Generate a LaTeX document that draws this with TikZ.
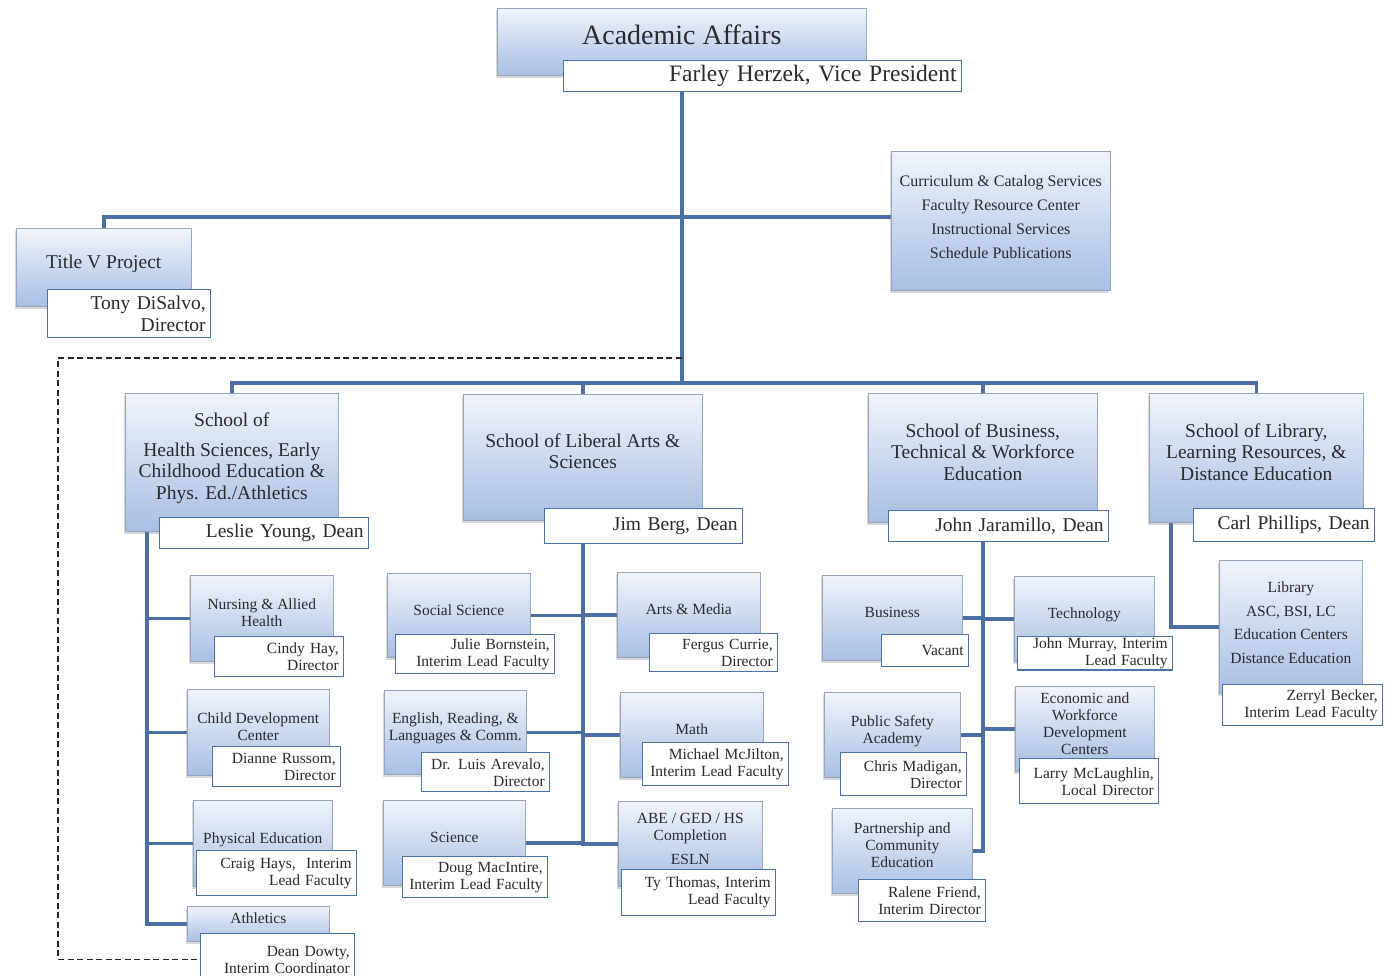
\documentclass[tikz,border=0pt]{standalone}
\usepackage{fontspec}
\setmainfont{Liberation Serif}
\usetikzlibrary{shadows,calc}

\definecolor{linkblue}{HTML}{4A70A6}
\definecolor{edgeblue}{HTML}{4A72AA}
\definecolor{unittop}{HTML}{F0F4FB}
\definecolor{unitbot}{HTML}{A7BEE3}
\definecolor{unitedge}{HTML}{97A6BD}
\definecolor{inkgray}{HTML}{2A2A30}

\pgfdeclarelayer{background}
\pgfsetlayers{background,main}

% type sizes
\newcommand\fsub{\fontsize{15.5}{17}\selectfont}
\newcommand\fschool{\fontsize{19.5}{21.5}\selectfont}
\newcommand\fdean{\fontsize{19.5}{22}\selectfont}
\newcommand\ftop{\fontsize{28}{30}\selectfont}
\newcommand\fvp{\fontsize{23.5}{26}\selectfont}
\newcommand\flist{\fontsize{16}{24}\selectfont}

% shaded unit box: [options]{name}{x1}{y1}{x2}{y2}{text}
% (text sits a little above the box centre)
\newcommand\orgunit[7][]{%
  \pgfmathsetmacro\ubw{#5-#3}\pgfmathsetmacro\ubh{#6-#4}%
  \node[unitbox,minimum width=\ubw pt,minimum height=\ubh pt,#1] (#2) at (#3,#4)
    {\raisebox{3.5pt}[\height][\depth]{\begin{tabular}{@{}c@{}}#7\end{tabular}}};}
% white name plate: [options]{name}{x1}{y1}{x2}{y2}{text}
\newcommand\orgname[7][]{%
  \pgfmathsetmacro\ubw{#5-#3}\pgfmathsetmacro\ubh{#6-#4}\pgfmathsetmacro\utw{#5-#3-10}%
  \node[namebox,minimum width=\ubw pt,minimum height=\ubh pt,text width=\utw pt,#1] (#2) at (#3,#4) {#7};}

\tikzset{
  unitbox/.style={anchor=north west, draw=unitedge, line width=0.6pt,
    top color=unittop, bottom color=unitbot, align=center, inner sep=2pt,
    font=\fsub, text=inkgray,
    drop shadow={shadow xshift=-1pt,shadow yshift=-3pt,opacity=.3}},
  namebox/.style={anchor=north west, draw=edgeblue, line width=1.4pt,
    fill=white, align=right, inner xsep=5pt, inner ysep=1pt,
    font=\fsub, text=inkgray},
  link/.style={draw=linkblue, line width=3.5pt, line join=miter},
  dashline/.style={draw=black!85, line width=1.1pt, dash pattern=on 6pt off 3.5pt}
}

\begin{document}
\begin{tikzpicture}[x=1pt,y=-1pt]
\useasboundingbox (0,0) rectangle (1395,975);

% top level
\orgunit[font=\ftop]{aa}{497}{8}{866}{75}{Academic Affairs}
\orgname[font=\fvp]{vp}{563}{60}{961}{91}{Farley Herzek, Vice President}

\orgunit[font=\fschool]{t5}{16}{228}{191}{306}{Title V Project}
\orgname[font=\fdean]{t5n}{47}{289}{210}{337}{Tony DiSalvo,\\Director}

\orgunit[font=\flist]{cur}{891}{151}{1110}{290}{Curriculum \& Catalog Services\\Faculty Resource Center\\Instructional Services\\Schedule Publications}

% schools
\orgunit[font=\fschool]{hs}{125}{393}{338}{531}{School of\\[8pt]Health Sciences, Early\\Childhood Education \&\\Phys. Ed./Athletics}
\orgname[font=\fdean]{hsn}{159}{517}{368}{548}{Leslie Young, Dean}

\orgunit[font=\fschool]{la}{463}{394}{702}{520}{School of Liberal Arts \&\\Sciences}
\orgname[font=\fdean]{lan}{544}{508}{742}{543}{Jim Berg, Dean}

\orgunit[font=\fschool]{bs}{868}{393}{1097}{522}{School of Business,\\Technical \& Workforce\\Education}
\orgname[font=\fdean]{bsn}{888}{510}{1108}{541}{John Jaramillo, Dean}

\orgunit[font=\fschool]{lib}{1149}{393}{1363}{522}{School of Library,\\Learning Resources, \&\\Distance Education}
\orgname[font=\fdean]{libn}{1193}{508}{1374}{541}{Carl Phillips, Dean}

% health sciences units
\orgunit{nur}{190}{575}{333}{661}{Nursing \& Allied\\Health}
\orgname{nurn}{214}{636}{343}{676}{Cindy Hay,\\Director}
\orgunit{cd}{187}{689}{329}{775}{Child Development\\Center}
\orgname{cdn}{212}{746}{340}{786}{Dianne Russom,\\Director}
\orgunit{pe}{193}{800}{332}{886}{Physical Education}
\orgname{pen}{196}{850}{356}{895}{Craig Hays,~ Interim\\Lead Faculty}
\orgunit{ath}{187}{906}{329}{941}{Athletics}
\orgname{athn}{200}{933}{354}{985}{Dean Dowty,\\Interim Coordinator}

% liberal arts units
\orgunit{ss}{387}{573}{530}{657}{Social Science}
\orgname{ssn}{395}{634}{554}{673}{Julie Bornstein,\\Interim Lead Faculty}
\orgunit{eng}{384}{690}{526}{774}{English, Reading, \&\\Languages \& Comm.}
\orgname{engn}{421}{752}{549}{791}{Dr. Luis Arevalo,\\Director}
\orgunit{sci}{383}{800}{525}{885}{Science}
\orgname{scin}{402}{856}{547}{897}{Doug MacIntire,\\Interim Lead Faculty}
\orgunit{am}{617}{572}{760}{657}{Arts \& Media}
\orgname{amn}{649}{633}{777}{671}{Fergus Currie,\\Director}
\orgunit{math}{620}{692}{763}{777}{Math}
\orgname{mathn}{642}{742}{788}{785}{Michael McJilton,\\Interim Lead Faculty}
\orgunit{abe}{618}{801}{762}{886}{ABE / GED / HS\\Completion\\[7pt]ESLN}
\orgname{aben}{621}{869}{775}{915}{Ty Thomas, Interim\\Lead Faculty}

% business units
\orgunit{bus}{822}{575}{962}{660}{Business}
\orgname{busn}{881}{634}{968}{666}{Vacant}
\orgunit{ps}{824}{692}{960}{777}{Public Safety\\Academy}
\orgname{psn}{840}{752}{966}{795}{Chris Madigan,\\Director}
\orgunit{part}{832}{808}{972}{893}{Partnership and\\Community\\Education}
\orgname{partn}{858}{879}{985}{921}{Ralene Friend,\\Interim Director}
\orgunit{tech}{1014}{576}{1154}{661}{Technology}
\orgname{techn}{1017}{636}{1172}{668}{John Murray, Interim\\Lead Faculty}
\orgunit{econ}{1015}{686}{1154}{771}{Economic and\\Workforce\\Development\\Centers}
\orgname{econn}{1019}{758}{1158}{803}{Larry McLaughlin,\\Local Director}

% library units
\orgunit[font=\fontsize{15.5}{23.5}\selectfont]{libu}{1219}{560}{1362}{693}{Library\\ASC, BSI, LC\\Education Centers\\Distance Education}
\orgname{libun}{1222}{684}{1382}{725}{Zerryl Becker,\\Interim Lead Faculty}

\begin{pgfonlayer}{background}
  \fill[white] (0,0) rectangle (1395,975);
  % reporting lines
  \draw[link] (aa.south) -- (aa.south |- 0,383);
  \draw[link] (t5.north) -- (t5.north |- 0,217) -- (cur.west |- 0,217);
  \draw[link] (hs.north) -- (hs.north |- 0,383) -- (lib.north |- 0,383) -- (lib.north);
  \draw[link] (la.north) -- (la.north |- 0,383);
  \draw[link] (bs.north) -- (bs.north |- 0,383);

  \coordinate (hsx) at ($(hs.south west)+(22,0)$);
  \draw[link] (hsx) |- (ath.west);
  \foreach \u in {nur,cd,pe} \draw[link] (hsx |- \u.west) -- (\u.west);

  \draw[link] (la.south) |- (abe.west);
  \foreach \u in {ss,eng,sci} \draw[link] (\u.east) -- (\u.east -| la.south);
  \foreach \u in {am,math} \draw[link] (la.south |- \u.west) -- (\u.west);

  \draw[link] (bs.south) |- (part.east);
  \foreach \u in {bus,ps} \draw[link] (\u.east) -- (\u.east -| bs.south);
  \foreach \u in {tech,econ} \draw[link] (bs.south |- \u.west) -- (\u.west);

  \coordinate (libx) at ($(lib.south west)+(22,0)$);
  \draw[link] (libx) |- (libu.west);

  % dotted-line relationship
  \coordinate (dtop) at (aa.south |- 0,358);
  \coordinate (dleft) at (58,358);
  \draw[dashline] (dtop) -- (dleft) |- (athn.west);
\end{pgfonlayer}
\end{tikzpicture}
\end{document}
